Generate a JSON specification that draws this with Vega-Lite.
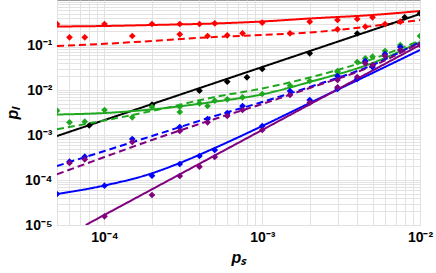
{
  "$schema": "https://vega.github.io/schema/vega-lite/v6.json",
  "autosize": {"type": "none"},
  "width": 363,
  "height": 225,
  "padding": {"left": 57, "top": 0, "right": 16, "bottom": 48},
  "background": "white",
  "config": {
    "view": {"stroke": "#9a9a9a", "strokeWidth": 1},
    "axis": {
      "labelFont": "Liberation Sans",
      "labelFontWeight": "bold",
      "labelFontSize": 14,
      "labelColor": "black",
      "titleFont": "Liberation Sans",
      "titleFontWeight": "bold",
      "titleFontStyle": "italic",
      "titleFontSize": 16,
      "titleColor": "black",
      "domain": false,
      "ticks": false,
      "gridColor": "#e2e2e2",
      "gridWidth": 1,
      "labelOverlap": false,
      "labelFlush": false
    }
  },
  "datasets": {
    "fits": [
      {"series": "s1", "variant": "A", "ps": 0.00005, "pl": 0.2577},
      {"series": "s1", "variant": "A", "ps": 0.0001, "pl": 0.2644},
      {"series": "s1", "variant": "A", "ps": 0.0002, "pl": 0.2783},
      {"series": "s1", "variant": "A", "ps": 0.0005, "pl": 0.3005},
      {"series": "s1", "variant": "A", "ps": 0.001, "pl": 0.333},
      {"series": "s1", "variant": "A", "ps": 0.002, "pl": 0.388},
      {"series": "s1", "variant": "A", "ps": 0.005, "pl": 0.4642},
      {"series": "s1", "variant": "A", "ps": 0.01, "pl": 0.5695},
      {"series": "s1", "variant": "B", "ps": 0.00005, "pl": 0.095},
      {"series": "s1", "variant": "B", "ps": 0.0001, "pl": 0.1063},
      {"series": "s1", "variant": "B", "ps": 0.0002, "pl": 0.1227},
      {"series": "s1", "variant": "B", "ps": 0.0005, "pl": 0.1506},
      {"series": "s1", "variant": "B", "ps": 0.001, "pl": 0.1668},
      {"series": "s1", "variant": "B", "ps": 0.002, "pl": 0.1895},
      {"series": "s1", "variant": "B", "ps": 0.005, "pl": 0.264},
      {"series": "s1", "variant": "B", "ps": 0.01, "pl": 0.3594},
      {"series": "s2", "variant": "A", "ps": 0.00005, "pl": 0.00095},
      {"series": "s2", "variant": "A", "ps": 0.01, "pl": 0.4884},
      {"series": "s3", "variant": "A", "ps": 0.00005, "pl": 0.002854},
      {"series": "s3", "variant": "A", "ps": 0.0001, "pl": 0.003083},
      {"series": "s3", "variant": "A", "ps": 0.0002, "pl": 0.0037},
      {"series": "s3", "variant": "A", "ps": 0.0005, "pl": 0.0055},
      {"series": "s3", "variant": "A", "ps": 0.001, "pl": 0.008},
      {"series": "s3", "variant": "A", "ps": 0.002, "pl": 0.01506},
      {"series": "s3", "variant": "A", "ps": 0.005, "pl": 0.03981},
      {"series": "s3", "variant": "A", "ps": 0.01, "pl": 0.1166},
      {"series": "s3", "variant": "B", "ps": 0.00005, "pl": 0.001338},
      {"series": "s3", "variant": "B", "ps": 0.0001, "pl": 0.0021},
      {"series": "s3", "variant": "B", "ps": 0.0002, "pl": 0.003415},
      {"series": "s3", "variant": "B", "ps": 0.0005, "pl": 0.00699},
      {"series": "s3", "variant": "B", "ps": 0.001, "pl": 0.0108},
      {"series": "s3", "variant": "B", "ps": 0.002, "pl": 0.01896},
      {"series": "s3", "variant": "B", "ps": 0.005, "pl": 0.04885},
      {"series": "s3", "variant": "B", "ps": 0.01, "pl": 0.1259},
      {"series": "s4", "variant": "A", "ps": 0.00005, "pl": 0.00004885},
      {"series": "s4", "variant": "A", "ps": 0.0001, "pl": 0.00007545},
      {"series": "s4", "variant": "A", "ps": 0.0002, "pl": 0.000141},
      {"series": "s4", "variant": "A", "ps": 0.0003, "pl": 0.0002387},
      {"series": "s4", "variant": "A", "ps": 0.0005, "pl": 0.000514},
      {"series": "s4", "variant": "A", "ps": 0.001, "pl": 0.001585},
      {"series": "s4", "variant": "A", "ps": 0.002, "pl": 0.005141},
      {"series": "s4", "variant": "A", "ps": 0.005, "pl": 0.02387},
      {"series": "s4", "variant": "A", "ps": 0.01, "pl": 0.07743},
      {"series": "s4", "variant": "B", "ps": 0.00005, "pl": 0.0002048},
      {"series": "s4", "variant": "B", "ps": 0.0001, "pl": 0.000441},
      {"series": "s4", "variant": "B", "ps": 0.0002, "pl": 0.00095},
      {"series": "s4", "variant": "B", "ps": 0.0005, "pl": 0.002643},
      {"series": "s4", "variant": "B", "ps": 0.001, "pl": 0.005412},
      {"series": "s4", "variant": "B", "ps": 0.002, "pl": 0.01166},
      {"series": "s4", "variant": "B", "ps": 0.005, "pl": 0.03594},
      {"series": "s4", "variant": "B", "ps": 0.01, "pl": 0.1166},
      {"series": "s5", "variant": "A", "ps": 0.000076, "pl": 0.00001},
      {"series": "s5", "variant": "A", "ps": 0.01, "pl": 0.1},
      {"series": "s5", "variant": "B", "ps": 0.00005, "pl": 0.0001338},
      {"series": "s5", "variant": "B", "ps": 0.0001, "pl": 0.0003244},
      {"series": "s5", "variant": "B", "ps": 0.0002, "pl": 0.000774},
      {"series": "s5", "variant": "B", "ps": 0.0005, "pl": 0.002268},
      {"series": "s5", "variant": "B", "ps": 0.001, "pl": 0.004885},
      {"series": "s5", "variant": "B", "ps": 0.002, "pl": 0.01108},
      {"series": "s5", "variant": "B", "ps": 0.005, "pl": 0.03415},
      {"series": "s5", "variant": "B", "ps": 0.01, "pl": 0.1108}
    ],
    "sims": [
      {"series": "s1", "variant": "A", "ps": 0.00005, "pl": 0.293},
      {"series": "s1", "variant": "A", "ps": 0.0001, "pl": 0.293},
      {"series": "s1", "variant": "A", "ps": 0.0002, "pl": 0.293},
      {"series": "s1", "variant": "A", "ps": 0.0003, "pl": 0.293},
      {"series": "s1", "variant": "A", "ps": 0.0004, "pl": 0.293},
      {"series": "s1", "variant": "A", "ps": 0.0005, "pl": 0.3035},
      {"series": "s1", "variant": "A", "ps": 0.001, "pl": 0.3131},
      {"series": "s1", "variant": "A", "ps": 0.002, "pl": 0.3295},
      {"series": "s1", "variant": "A", "ps": 0.003, "pl": 0.3594},
      {"series": "s1", "variant": "A", "ps": 0.004, "pl": 0.3783},
      {"series": "s1", "variant": "A", "ps": 0.005, "pl": 0.4126},
      {"series": "s1", "variant": "B", "ps": 0.00006, "pl": 0.1483},
      {"series": "s1", "variant": "B", "ps": 0.000075, "pl": 0.1483},
      {"series": "s1", "variant": "B", "ps": 0.00015, "pl": 0.1585},
      {"series": "s1", "variant": "B", "ps": 0.0003, "pl": 0.1729},
      {"series": "s1", "variant": "B", "ps": 0.00045, "pl": 0.1585},
      {"series": "s1", "variant": "B", "ps": 0.0006, "pl": 0.1643},
      {"series": "s1", "variant": "B", "ps": 0.00075, "pl": 0.182},
      {"series": "s1", "variant": "B", "ps": 0.0015, "pl": 0.182},
      {"series": "s1", "variant": "B", "ps": 0.003, "pl": 0.2233},
      {"series": "s1", "variant": "B", "ps": 0.0045, "pl": 0.2551},
      {"series": "s1", "variant": "B", "ps": 0.006, "pl": 0.2929},
      {"series": "s1", "variant": "B", "ps": 0.0075, "pl": 0.3295},
      {"series": "s2", "variant": "A", "ps": 0.00008, "pl": 0.001626},
      {"series": "s2", "variant": "A", "ps": 0.0002, "pl": 0.004713},
      {"series": "s2", "variant": "A", "ps": 0.0004, "pl": 0.009648},
      {"series": "s2", "variant": "A", "ps": 0.0006, "pl": 0.01529},
      {"series": "s2", "variant": "A", "ps": 0.0008, "pl": 0.01915},
      {"series": "s2", "variant": "A", "ps": 0.001, "pl": 0.02929},
      {"series": "s2", "variant": "A", "ps": 0.002, "pl": 0.06539},
      {"series": "s2", "variant": "A", "ps": 0.004, "pl": 0.1801},
      {"series": "s2", "variant": "A", "ps": 0.008, "pl": 0.4126},
      {"series": "s2", "variant": "A", "ps": 0.01, "pl": 0.5063},
      {"series": "s3", "variant": "A", "ps": 0.00005, "pl": 0.003467},
      {"series": "s3", "variant": "A", "ps": 0.0001, "pl": 0.003594},
      {"series": "s3", "variant": "A", "ps": 0.0002, "pl": 0.004191},
      {"series": "s3", "variant": "A", "ps": 0.0003, "pl": 0.004256},
      {"series": "s3", "variant": "A", "ps": 0.0004, "pl": 0.005063},
      {"series": "s3", "variant": "A", "ps": 0.0005, "pl": 0.005784},
      {"series": "s3", "variant": "A", "ps": 0.001, "pl": 0.00815},
      {"series": "s3", "variant": "A", "ps": 0.002, "pl": 0.01585},
      {"series": "s3", "variant": "A", "ps": 0.003, "pl": 0.02643},
      {"series": "s3", "variant": "A", "ps": 0.004, "pl": 0.04191},
      {"series": "s3", "variant": "A", "ps": 0.005, "pl": 0.05495},
      {"series": "s3", "variant": "A", "ps": 0.01, "pl": 0.1585},
      {"series": "s3", "variant": "B", "ps": 0.00006, "pl": 0.001915},
      {"series": "s3", "variant": "B", "ps": 0.000075, "pl": 0.001975},
      {"series": "s3", "variant": "B", "ps": 0.00015, "pl": 0.002474},
      {"series": "s3", "variant": "B", "ps": 0.0003, "pl": 0.003244},
      {"series": "s3", "variant": "B", "ps": 0.00045, "pl": 0.00441},
      {"series": "s3", "variant": "B", "ps": 0.0006, "pl": 0.006213},
      {"series": "s3", "variant": "B", "ps": 0.00075, "pl": 0.006883},
      {"series": "s3", "variant": "B", "ps": 0.0015, "pl": 0.01259},
      {"series": "s3", "variant": "B", "ps": 0.003, "pl": 0.02512},
      {"series": "s3", "variant": "B", "ps": 0.0045, "pl": 0.05063},
      {"series": "s3", "variant": "B", "ps": 0.006, "pl": 0.07356},
      {"series": "s3", "variant": "B", "ps": 0.0075, "pl": 0.1},
      {"series": "s4", "variant": "A", "ps": 0.00005, "pl": 0.00004885},
      {"series": "s4", "variant": "A", "ps": 0.0001, "pl": 0.0000747},
      {"series": "s4", "variant": "A", "ps": 0.0002, "pl": 0.0001246},
      {"series": "s4", "variant": "A", "ps": 0.0003, "pl": 0.0002268},
      {"series": "s4", "variant": "A", "ps": 0.0004, "pl": 0.0003415},
      {"series": "s4", "variant": "A", "ps": 0.0005, "pl": 0.0004642},
      {"series": "s4", "variant": "A", "ps": 0.001, "pl": 0.001585},
      {"series": "s4", "variant": "A", "ps": 0.002, "pl": 0.005995},
      {"series": "s4", "variant": "A", "ps": 0.003, "pl": 0.01053},
      {"series": "s4", "variant": "A", "ps": 0.004, "pl": 0.01756},
      {"series": "s4", "variant": "A", "ps": 0.005, "pl": 0.03244},
      {"series": "s4", "variant": "B", "ps": 0.00006, "pl": 0.0002551},
      {"series": "s4", "variant": "B", "ps": 0.000075, "pl": 0.0003295},
      {"series": "s4", "variant": "B", "ps": 0.00015, "pl": 0.000815},
      {"series": "s4", "variant": "B", "ps": 0.0003, "pl": 0.001506},
      {"series": "s4", "variant": "B", "ps": 0.00045, "pl": 0.002268},
      {"series": "s4", "variant": "B", "ps": 0.0006, "pl": 0.003083},
      {"series": "s4", "variant": "B", "ps": 0.00075, "pl": 0.00441},
      {"series": "s4", "variant": "B", "ps": 0.0015, "pl": 0.0095},
      {"series": "s4", "variant": "B", "ps": 0.003, "pl": 0.02047},
      {"series": "s4", "variant": "B", "ps": 0.0045, "pl": 0.0441},
      {"series": "s4", "variant": "B", "ps": 0.006, "pl": 0.0631},
      {"series": "s4", "variant": "B", "ps": 0.0075, "pl": 0.0903},
      {"series": "s5", "variant": "A", "ps": 0.0001, "pl": 0.00001561},
      {"series": "s5", "variant": "A", "ps": 0.0002, "pl": 0.00004642},
      {"series": "s5", "variant": "A", "ps": 0.0003, "pl": 0.0001227},
      {"series": "s5", "variant": "A", "ps": 0.0004, "pl": 0.0001975},
      {"series": "s5", "variant": "A", "ps": 0.0005, "pl": 0.0003244},
      {"series": "s5", "variant": "A", "ps": 0.001, "pl": 0.001292},
      {"series": "s5", "variant": "A", "ps": 0.002, "pl": 0.005221},
      {"series": "s5", "variant": "A", "ps": 0.003, "pl": 0.01148},
      {"series": "s5", "variant": "A", "ps": 0.004, "pl": 0.01945},
      {"series": "s5", "variant": "A", "ps": 0.005, "pl": 0.03594},
      {"series": "s5", "variant": "A", "ps": 0.01, "pl": 0.1},
      {"series": "s5", "variant": "B", "ps": 0.00006, "pl": 0.0002387},
      {"series": "s5", "variant": "B", "ps": 0.000075, "pl": 0.0002884},
      {"series": "s5", "variant": "B", "ps": 0.00015, "pl": 0.000699},
      {"series": "s5", "variant": "B", "ps": 0.0003, "pl": 0.001227},
      {"series": "s5", "variant": "B", "ps": 0.00045, "pl": 0.001915},
      {"series": "s5", "variant": "B", "ps": 0.0006, "pl": 0.002643},
      {"series": "s5", "variant": "B", "ps": 0.00075, "pl": 0.003594},
      {"series": "s5", "variant": "B", "ps": 0.0015, "pl": 0.007743},
      {"series": "s5", "variant": "B", "ps": 0.003, "pl": 0.01668},
      {"series": "s5", "variant": "B", "ps": 0.0045, "pl": 0.0392},
      {"series": "s5", "variant": "B", "ps": 0.006, "pl": 0.05695},
      {"series": "s5", "variant": "B", "ps": 0.0075, "pl": 0.07743}
    ]
  },
  "encoding": {
    "x": {
      "field": "ps", "type": "quantitative",
      "scale": {"type": "log", "domain": [0.00005, 0.01], "nice": false},
      "axis": {
        "title": "pₛ",
        "titlePadding": 5,
        "labelPadding": 5,
        "values": [0.00005, 0.00006, 0.00007, 0.00008, 0.00009, 0.0001, 0.0002, 0.0003, 0.0004, 0.0005, 0.0006, 0.0007, 0.0008, 0.0009, 0.001, 0.002, 0.003, 0.004, 0.005, 0.006, 0.007, 0.008, 0.009, 0.01],
        "labelExpr": "datum.value == 0.0001 ? '10⁻⁴' : datum.value == 0.001 ? '10⁻³' : datum.value == 0.01 ? '10⁻²' : ''"
      }
    },
    "y": {
      "field": "pl", "type": "quantitative",
      "scale": {"type": "log", "domain": [0.00001, 1], "nice": false},
      "axis": {
        "title": "pₗ",
        "titlePadding": 4,
        "labelPadding": 5,
        "values": [0.00001, 0.00002, 0.00003, 0.00004, 0.00005, 0.00006, 0.00007, 0.00008, 0.00009, 0.0001, 0.0002, 0.0003, 0.0004, 0.0005, 0.0006, 0.0007, 0.0008, 0.0009, 0.001, 0.002, 0.003, 0.004, 0.005, 0.006, 0.007, 0.008, 0.009, 0.01, 0.02, 0.03, 0.04, 0.05, 0.06, 0.07, 0.08, 0.09, 0.1, 0.2, 0.3, 0.4, 0.5, 0.6, 0.7, 0.8, 0.9],
        "labelExpr": "datum.value == 0.00001 ? '10⁻⁵' : datum.value == 0.0001 ? '10⁻⁴' : datum.value == 0.001 ? '10⁻³' : datum.value == 0.01 ? '10⁻²' : datum.value == 0.1 ? '10⁻¹' : ''"
      }
    },
    "color": {
      "field": "series", "type": "nominal", "legend": null,
      "scale": {"domain": ["s1", "s2", "s3", "s4", "s5"], "range": ["#ff0000", "#000000", "#1fa81f", "#0000ff", "#800080"]}
    }
  },
  "layer": [
    {
      "data": {"name": "fits"},
      "mark": {"type": "line", "strokeWidth": 2, "clip": true, "interpolate": "monotone"},
      "encoding": {
        "strokeDash": {
          "field": "variant", "type": "nominal", "legend": null,
          "scale": {"domain": ["A", "B"], "range": [[1, 0], [7, 4]]}
        }
      }
    },
    {
      "data": {"name": "sims"},
      "mark": {"type": "point", "shape": "diamond", "filled": true, "opacity": 1, "size": 45, "clip": true}
    }
  ]
}
